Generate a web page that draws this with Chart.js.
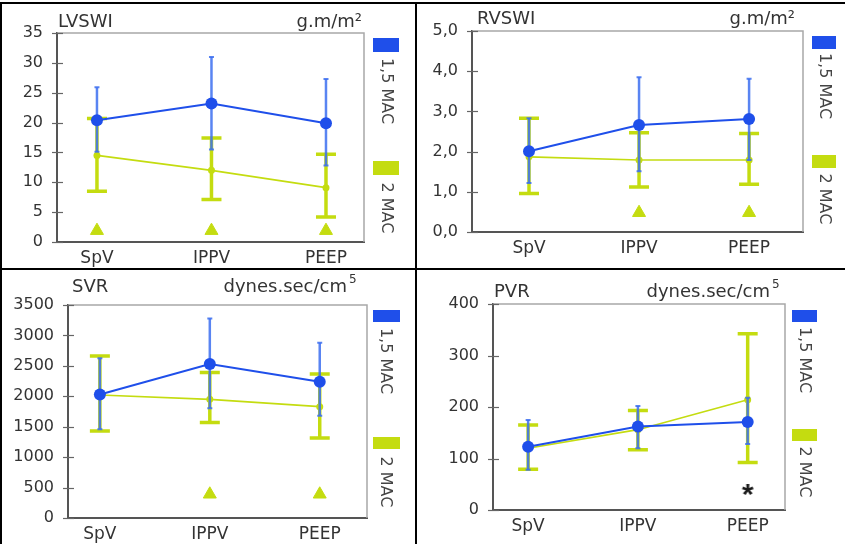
<!DOCTYPE html>
<html>
<head>
<meta charset="utf-8">
<script src="https://cdn.jsdelivr.net/npm/chart.js@4.4.0/dist/chart.umd.min.js"></script>
<style>
  html, body { margin: 0; padding: 0; background: #fff; }
  #fig { position: relative; width: 845px; height: 544px; overflow: hidden; background: #fff; }
  .panel { position: absolute; }
  .rule { position: absolute; background: #000; }
</style>
</head>
<body>
<div id="fig">
  <div class="panel" id="p1"><canvas id="c1"></canvas></div>
  <div class="panel" id="p2"><canvas id="c2"></canvas></div>
  <div class="panel" id="p3"><canvas id="c3"></canvas></div>
  <div class="panel" id="p4"><canvas id="c4"></canvas></div>
  <div class="rule" style="left:0;top:2px;width:845px;height:2px"></div>
  <div class="rule" style="left:0;top:2px;width:2px;height:542px"></div>
  <div class="rule" style="left:415px;top:2px;width:2px;height:542px"></div>
  <div class="rule" style="left:0;top:268px;width:845px;height:2px"></div>
</div>
<script>
const categories = ['SpV', 'IPPV', 'PEEP'];
const seriesNames = ['1,5 MAC', '2 MAC'];

// LVSWI (g.m/m2)
const lvswiTicks = [0, 5, 10, 15, 20, 25, 30, 35];
const lvswiMac15 = [20.4, 23.2, 19.9];
const lvswiMac15Lo = [15.1, 15.5, 12.8];
const lvswiMac15Hi = [25.9, 31.0, 27.3];
const lvswiMac2 = [14.5, 12.0, 9.1];
const lvswiMac2Lo = [8.5, 7.1, 4.2];
const lvswiMac2Hi = [20.7, 17.4, 14.7];
const lvswiSig = [1.9, 1.9, 1.9];

// RVSWI (g.m/m2)
const rvswiTicks = [0, 1, 2, 3, 4, 5];
const rvswiMac15 = [2.01, 2.66, 2.81];
const rvswiMac15Lo = [1.22, 1.51, 1.79];
const rvswiMac15Hi = [2.83, 3.85, 3.81];
const rvswiMac2 = [1.87, 1.79, 1.79];
const rvswiMac2Lo = [0.96, 1.12, 1.19];
const rvswiMac2Hi = [2.83, 2.47, 2.45];
const rvswiSig = [null, 0.48, 0.48];

// SVR (dynes.sec/cm5)
const svrTicks = [0, 500, 1000, 1500, 2000, 2500, 3000, 3500];
const svrMac15 = [2030, 2530, 2240];
const svrMac15Lo = [1460, 1805, 1680];
const svrMac15Hi = [2625, 3280, 2880];
const svrMac2 = [2020, 1950, 1830];
const svrMac2Lo = [1430, 1570, 1315];
const svrMac2Hi = [2660, 2390, 2365];
const svrSig = [null, 390, 390];

// PVR (dynes.sec/cm5)
const pvrTicks = [0, 100, 200, 300, 400];
const pvrMac15 = [123, 162, 171];
const pvrMac15Lo = [78, 120, 128];
const pvrMac15Hi = [175, 202, 218];
const pvrMac2 = [120, 156, 214];
const pvrMac2Lo = [79, 117, 92];
const pvrMac2Hi = [165, 193, 342];
const pvrSig = [null, null, 37];

const BLUE = '#1f4fea';
const BLUE_BAR = 'rgba(60,110,240,0.85)';
const GREEN = '#c4dc10';
const FONT = '"DejaVu Sans", sans-serif';
const TEXT = '#333';
const X_H = 28;

const panels = [
  { id: 'c1', wrap: 'p1', canvas: [2, 4, 413, 264], plot: [57, 33, 364, 242], xr: [-0.349, 2.332],
    ticks: lvswiTicks, fmt: v => String(v),
    mac15: lvswiMac15, mac15Lo: lvswiMac15Lo, mac15Hi: lvswiMac15Hi,
    mac2: lvswiMac2, mac2Lo: lvswiMac2Lo, mac2Hi: lvswiMac2Hi, sig: lvswiSig, sigStyle: 'triangle',
    title: 'LVSWI', titleX: 58, base: 27, unit: 'g.m/m²', unitRight: 362, sup: '',
    legX: 386, sq: [373, 26, 38, 161, 14], lab: [91, 208] },
  { id: 'c2', wrap: 'p2', canvas: [417, 4, 428, 264], plot: [472, 31, 803, 232], xr: [-0.518, 2.49],
    ticks: rvswiTicks, fmt: v => v.toFixed(1).replace('.', ','),
    mac15: rvswiMac15, mac15Lo: rvswiMac15Lo, mac15Hi: rvswiMac15Hi,
    mac2: rvswiMac2, mac2Lo: rvswiMac2Lo, mac2Hi: rvswiMac2Hi, sig: rvswiSig, sigStyle: 'triangle',
    title: 'RVSWI', titleX: 477, base: 24, unit: 'g.m/m²', unitRight: 795, sup: '',
    legX: 824, sq: [812, 24, 36, 155, 13], lab: [86, 199] },
  { id: 'c3', wrap: 'p3', canvas: [2, 270, 413, 274], plot: [68, 305, 367, 518], xr: [-0.29, 2.43],
    ticks: svrTicks, fmt: v => String(v),
    mac15: svrMac15, mac15Lo: svrMac15Lo, mac15Hi: svrMac15Hi,
    mac2: svrMac2, mac2Lo: svrMac2Lo, mac2Hi: svrMac2Hi, sig: svrSig, sigStyle: 'triangle',
    title: 'SVR', titleX: 72, base: 292, unit: 'dynes.sec/cm', unitRight: 347, sup: '5',
    legX: 385, sq: [373, 27, 310, 437, 12], lab: [361, 482] },
  { id: 'c4', wrap: 'p4', canvas: [417, 270, 428, 274], plot: [493, 304, 785, 510], xr: [-0.32, 2.34],
    ticks: pvrTicks, fmt: v => String(v),
    mac15: pvrMac15, mac15Lo: pvrMac15Lo, mac15Hi: pvrMac15Hi,
    mac2: pvrMac2, mac2Lo: pvrMac2Lo, mac2Hi: pvrMac2Hi, sig: pvrSig, sigStyle: 'asterisk',
    title: 'PVR', titleX: 494, base: 297, unit: 'dynes.sec/cm', unitRight: 770, sup: '5',
    legX: 804, sq: [792, 25, 310, 429, 12], lab: [360, 472] }
];

// "*" glyph used as a point style
function asteriskGlyph() {
  const c = document.createElement('canvas');
  c.width = 22; c.height = 22;
  const g = c.getContext('2d');
  g.fillStyle = '#1a1a1a';
  g.font = 'bold 30px "Liberation Sans", sans-serif';
  g.textAlign = 'center';
  g.textBaseline = 'alphabetic';
  g.fillText('*', 11, 24);
  return c;
}

function drawBars(chart, b) {
  const { x, y } = chart.scales;
  const ctx = chart.ctx;
  ctx.save();
  ctx.strokeStyle = b.color;
  b.lo.forEach((lo, i) => {
    const px = x.getPixelForValue(i);
    const top = y.getPixelForValue(b.hi[i]);
    const bot = y.getPixelForValue(lo);
    ctx.lineWidth = b.width;
    ctx.beginPath();
    ctx.moveTo(px, top);
    ctx.lineTo(px, bot);
    ctx.stroke();
    ctx.lineWidth = b.capWidth;
    ctx.beginPath();
    ctx.moveTo(px - b.cap / 2, top); ctx.lineTo(px + b.cap / 2, top);
    ctx.moveTo(px - b.cap / 2, bot); ctx.lineTo(px + b.cap / 2, bot);
    ctx.stroke();
  });
  ctx.restore();
}

// frame, crossing tick marks and the error bars under/between the lines
const errorBars = {
  id: 'errorBars',
  beforeDatasetsDraw(chart, args, opts) {
    const ctx = chart.ctx;
    const a = chart.chartArea;
    const y = chart.scales.y;
    ctx.save();
    ctx.strokeStyle = '#a8a8a8';
    ctx.lineWidth = 1.5;
    ctx.beginPath();
    ctx.moveTo(a.left, a.top);
    ctx.lineTo(a.right, a.top);
    ctx.lineTo(a.right, a.bottom);
    ctx.stroke();
    ctx.strokeStyle = '#666';
    ctx.lineWidth = 1.2;
    y.ticks.forEach(t => {
      const py = Math.round(y.getPixelForValue(t.value)) + 0.5;
      ctx.beginPath();
      ctx.moveTo(a.left - 5, py);
      ctx.lineTo(a.left + 6, py);
      ctx.stroke();
    });
    ctx.restore();
    drawBars(chart, opts.mac2);
  },
  afterDatasetDraw(chart, args, opts) {
    if (args.index === 1) drawBars(chart, opts.mac15);
  }
};

// panel title, unit and the vertical legend at the right
const panelText = {
  id: 'panelText',
  afterDraw(chart, args, o) {
    const ctx = chart.ctx;
    const ox = o.origin[0], oy = o.origin[1];
    ctx.save();
    ctx.fillStyle = TEXT;
    ctx.textBaseline = 'alphabetic';
    ctx.font = '18px ' + FONT;
    ctx.textAlign = 'left';
    ctx.fillText(o.title, o.titleX - ox, o.base - oy);
    ctx.textAlign = 'right';
    ctx.fillText(o.unit, o.unitRight - ox, o.base - oy);
    if (o.sup) {
      ctx.textAlign = 'left';
      ctx.font = '12px ' + FONT;
      ctx.fillText(o.sup, o.unitRight - ox + 2, o.base - oy - 9);
    }
    const [sx, sw, sy1, sy2, sh] = o.sq;
    ctx.fillStyle = BLUE;
    ctx.fillRect(sx - ox, sy1 - oy, sw, sh);
    ctx.fillStyle = GREEN;
    ctx.fillRect(sx - ox, sy2 - oy, sw, sh);
    ctx.fillStyle = '#444';
    ctx.font = '16px ' + FONT;
    ctx.textAlign = 'center';
    ctx.textBaseline = 'middle';
    o.names.forEach((n, i) => {
      ctx.save();
      ctx.translate(o.legX - ox, o.lab[i] - oy);
      ctx.rotate(Math.PI / 2);
      ctx.fillText(n, 0, 0);
      ctx.restore();
    });
    ctx.restore();
  }
};

const pts = arr => arr.map((v, i) => ({ x: i, y: v }));

panels.forEach(p => {
  const [cx, cy, cw, ch] = p.canvas;
  const wrap = document.getElementById(p.wrap);
  wrap.style.left = cx + 'px';
  wrap.style.top = cy + 'px';
  wrap.style.width = cw + 'px';
  wrap.style.height = ch + 'px';
  const cv = document.getElementById(p.id);
  cv.width = cw; cv.height = ch;
  cv.style.width = cw + 'px'; cv.style.height = ch + 'px';

  const yw = p.plot[0] - cx;
  const pad = {
    left: 0,
    top: p.plot[1] - cy,
    right: cx + cw - p.plot[2],
    bottom: cy + ch - p.plot[3] - X_H
  };
  const star = p.sigStyle === 'asterisk';

  new Chart(cv, {
    type: 'line',
    data: {
      datasets: [
        { label: seriesNames[0], data: pts(p.mac15), borderColor: BLUE, borderWidth: 2,
          pointRadius: 6, pointBackgroundColor: BLUE, pointBorderColor: BLUE, pointBorderWidth: 0 },
        { label: seriesNames[1], data: pts(p.mac2), borderColor: GREEN, borderWidth: 1.6,
          pointRadius: 3.5, pointBackgroundColor: GREEN, pointBorderColor: GREEN, pointBorderWidth: 0 },
        { label: 'sig', data: pts(p.sig), showLine: false,
          pointStyle: star ? asteriskGlyph() : 'triangle',
          pointRadius: 7.5, pointBackgroundColor: GREEN, pointBorderColor: GREEN, pointBorderWidth: 1 }
      ]
    },
    options: {
      responsive: false,
      animation: false,
      devicePixelRatio: 1,
      layout: { padding: pad },
      plugins: {
        legend: { display: false },
        tooltip: { enabled: false },
        errorBars: {
          mac15: { lo: p.mac15Lo, hi: p.mac15Hi, color: BLUE_BAR, width: 2.5, cap: 5, capWidth: 2 },
          mac2: { lo: p.mac2Lo, hi: p.mac2Hi, color: GREEN, width: 3.5, cap: 20, capWidth: 3.5 }
        },
        panelText: {
          origin: [cx, cy], title: p.title, titleX: p.titleX, base: p.base,
          unit: p.unit, unitRight: p.unitRight, sup: p.sup,
          legX: p.legX, sq: p.sq, lab: p.lab, names: seriesNames
        }
      },
      scales: {
        x: {
          type: 'linear', min: p.xr[0], max: p.xr[1],
          afterBuildTicks: s => { s.ticks = categories.map((c, i) => ({ value: i })); },
          afterFit: s => { s.height = X_H; },
          grid: { display: true, drawOnChartArea: false, drawTicks: false },
          border: { display: true, color: '#555', width: 2 },
          ticks: { padding: 6, color: TEXT, font: { family: FONT, size: 17 },
                   callback: v => categories[v] }
        },
        y: {
          min: p.ticks[0], max: p.ticks[p.ticks.length - 1],
          afterBuildTicks: s => { s.ticks = p.ticks.map(v => ({ value: v })); },
          afterFit: s => { s.width = yw; },
          grid: { display: true, drawOnChartArea: false, drawTicks: false },
          border: { display: true, color: '#555', width: 2 },
          ticks: { padding: 14, color: TEXT, font: { family: FONT, size: 16 }, callback: p.fmt }
        }
      }
    },
    plugins: [errorBars, panelText]
  });
});
</script>
</body>
</html>
